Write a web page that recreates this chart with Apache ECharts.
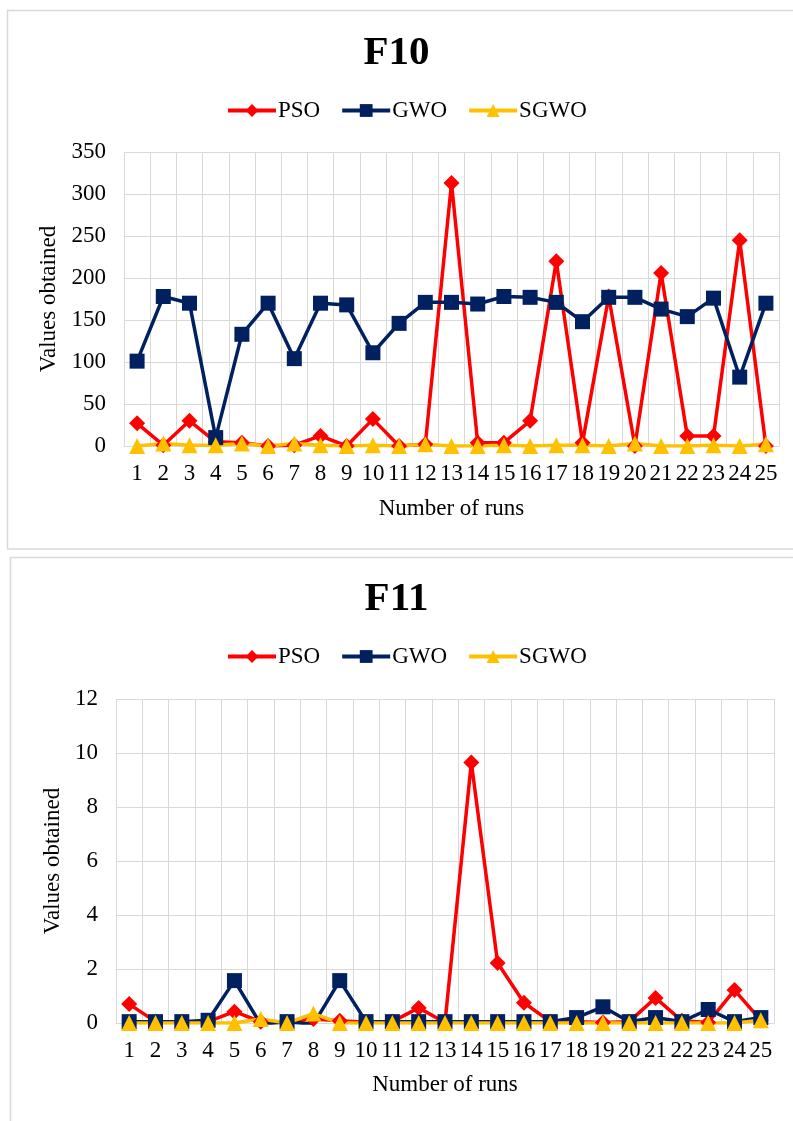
<!DOCTYPE html>
<html>
<head>
<meta charset="utf-8">
<script src="https://cdn.jsdelivr.net/npm/echarts@6/dist/echarts.min.js"></script>
<style>
html,body{margin:0;padding:0;background:#fff;}
#c{width:793px;height:1121px;}
</style>
</head>
<body>
<div id="c"></div>
<script>
const runs = ['1','2','3','4','5','6','7','8','9','10','11','12','13','14','15','16','17','18','19','20','21','22','23','24','25'];

const f10_PSO  = [27, 1, 30, 5, 4, 0, 1, 12, 0, 32, 0, 2, 313, 4, 4, 30, 220, 4, 178, 0, 206, 12, 12, 245, 0];
const f10_GWO  = [101, 178, 170, 10, 133, 170, 104, 170, 168, 111, 146, 171, 171, 169, 178, 177, 171, 148, 177, 177, 163, 154, 176, 82, 170];
const f10_SGWO = [0, 3, 1, 1, 3, 0, 3, 1, 0, 1, 0, 2, 0, 0, 1, 0, 1, 1, 0, 3, 0, 0, 1, 0, 2];

const f11_PSO  = [0.70, 0.05, 0.03, 0.05, 0.42, 0.05, 0.05, 0.15, 0.08, 0.03, 0.05, 0.56, 0.02, 9.65, 2.22, 0.75, 0.05, 0.05, 0.02, 0.05, 0.93, 0.08, 0.02, 1.22, 0.10];
const f11_GWO  = [0.05, 0.05, 0.05, 0.10, 1.57, -0.05, 0.05, -0.05, 1.57, 0.05, 0.05, 0.05, 0.05, 0.05, 0.05, 0.05, 0.05, 0.20, 0.60, 0.05, 0.20, 0.05, 0.50, 0.05, 0.20];
const f11_SGWO = [0, 0, 0, 0, 0, 0.15, 0, 0.35, 0, 0, 0, 0, 0, 0, 0, 0, 0, 0, 0, 0, 0, 0, 0, 0, 0.10];

const FONT = 'Liberation Serif';
const FS = 23;
const GRID_C = '#d9d9d9';
const COLORS = {PSO:'#ff0000', GWO:'#002060', SGWO:'#ffc000'};
const SYMS = {PSO:['diamond',16], GWO:['rect',15], SGWO:['triangle',16]};

function mkSeries(name, data, idx){
  return {
    name: name, type: 'line', data: data,
    xAxisIndex: idx, yAxisIndex: idx,
    symbol: SYMS[name][0], symbolSize: SYMS[name][1],
    lineStyle: {color: COLORS[name], width: 3.5},
    itemStyle: {color: COLORS[name]},
    animation: false
  };
}
function xAx(idx, gap){
  return {
    type:'category', gridIndex: idx, data: runs, boundaryGap: true,
    axisLine:{show:true, lineStyle:{color:GRID_C, width:1}},
    axisTick:{show:false},
    axisLabel:{color:'#000', fontFamily:FONT, fontSize:FS, margin:16, interval:0},
    splitLine:{show:true, interval:0, lineStyle:{color:GRID_C, width:1}},
    name:'Number of runs', nameLocation:'middle', nameGap:gap,
    nameTextStyle:{color:'#000', fontFamily:FONT, fontSize:FS}
  };
}
function yAx(idx, max, interval, gap){
  return {
    type:'value', gridIndex: idx, min:0, max:max, interval:interval,
    axisLine:{show:false}, axisTick:{show:false},
    axisLabel:{color:'#000', fontFamily:FONT, fontSize:FS, margin:18},
    splitLine:{show:true, lineStyle:{color:GRID_C, width:1}},
    name:'Values obtained', nameLocation:'middle', nameGap:gap, nameRotate:90,
    nameTextStyle:{color:'#000', fontFamily:FONT, fontSize:FS}
  };
}
function legend(top){
  return {
    top: top, left: 221, itemWidth: 48, itemHeight: 16, itemGap: 20,
    data: ['PSO','GWO','SGWO'],
    lineStyle:{width:4},
    textStyle:{color:'#000', fontFamily:FONT, fontSize:FS, padding:[0,0,0,-3]}
  };
}

const chart = echarts.init(document.getElementById('c'), null, {renderer:'canvas'});
chart.setOption({
  backgroundColor:'#fff',
  animation:false,
  title:[
    {text:'F10', left:'center', top:28, textStyle:{fontFamily:FONT, fontSize:41, fontWeight:'bold', color:'#000'}},
    {text:'F11', left:'center', top:574, textStyle:{fontFamily:FONT, fontSize:41, fontWeight:'bold', color:'#000'}}
  ],
  legend:[legend(94), legend(640)],
  grid:[
    {left:124, right:14, top:152, height:294},
    {left:116, right:19, top:699, height:324}
  ],
  xAxis:[xAx(0, 51), xAx(1, 50)],
  yAxis:[yAx(0, 350, 50, 63), yAx(1, 12, 2, 51)],
  graphic:[
    {type:'rect', shape:{x:7.5, y:10.5, width:800, height:538.5}, style:{fill:'none', stroke:'#d9d9d9', lineWidth:1.5}, silent:true},
    {type:'rect', shape:{x:10.5, y:557.5, width:800, height:600}, style:{fill:'none', stroke:'#d9d9d9', lineWidth:1.5}, silent:true}
  ],
  series:[
    mkSeries('PSO', f10_PSO, 0),
    mkSeries('GWO', f10_GWO, 0),
    mkSeries('SGWO', f10_SGWO, 0),
    mkSeries('PSO', f11_PSO, 1),
    mkSeries('GWO', f11_GWO, 1),
    mkSeries('SGWO', f11_SGWO, 1)
  ]
});
</script>
</body>
</html>
